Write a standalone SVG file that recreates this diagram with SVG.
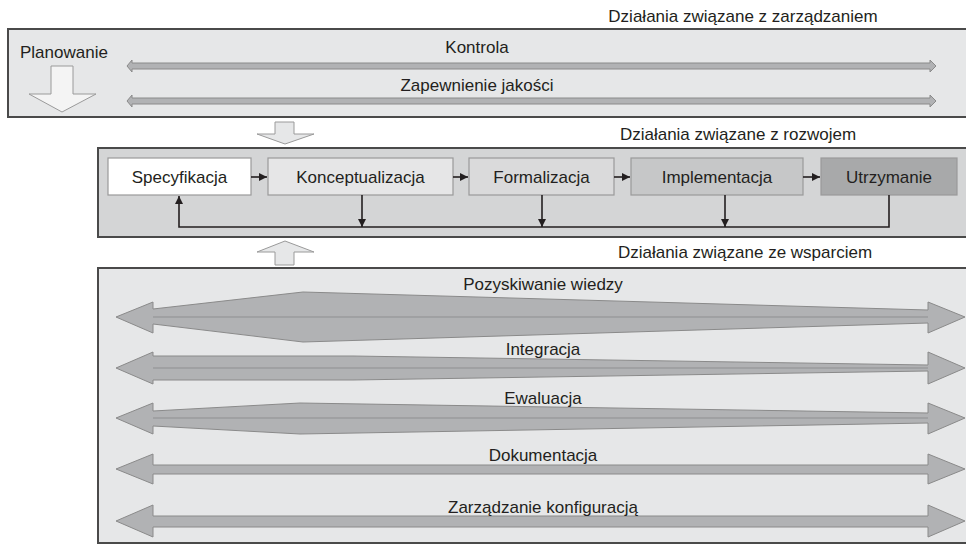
<svg xmlns="http://www.w3.org/2000/svg" width="966" height="545" viewBox="0 0 966 545">
<defs>
<style>
text{font-family:"Liberation Sans","Open Sans",sans-serif;font-size:17px;fill:#231f20}
.c{text-anchor:middle}
.panel{stroke:#4a4a4a;stroke-width:2}
.box{stroke:#9a9a9a;stroke-width:1.2}
.big{fill:#b1b2b4;stroke:#8a8a8a;stroke-width:1}
.mid{stroke:#8e8f91;stroke-width:1;fill:none}
.thin{fill:#b1b2b4;stroke:#8a8a8a;stroke-width:1}
.blk{stroke:#231f20;stroke-width:1.6;fill:none}
.out{stroke:#9a9a9a;stroke-width:1}
</style>
<marker id="ah" viewBox="0 0 10 10" refX="10" refY="5" markerWidth="8" markerHeight="8" markerUnits="userSpaceOnUse" orient="auto">
<path d="M0,0 L10,5 L0,10 z" fill="#231f20"/>
</marker>
</defs>

<g id="panel-zarzadzanie">
<rect class="panel" x="8" y="29" width="970" height="88" fill="#e6e7e8"/>
<text x="743" y="22" class="c">Działania związane z zarządzaniem</text>
</g>
<g id="planowanie">
<text x="20" y="58">Planowanie</text>
<polygon class="out" fill="#f4f4f4" points="51,66 73,66 73,94 96,94 62,112 29,94 51,94"/>
</g>
<g id="kontrola">
<polygon class="thin" points="127,66 132,60 132,63 930,63 930,60 936,66 930,72 930,69 132,69 132,72"/>
<text x="477" y="53" class="c">Kontrola</text>
</g>
<g id="zapewnienie">
<polygon class="thin" points="127,101 132,95 132,98 930,98 930,95 936,101 930,107 930,104 132,104 132,107"/>
<text x="477" y="91" class="c">Zapewnienie jakości</text>
</g>

<g id="arrow-down">
<polygon class="out" fill="#e6e7e8" points="275,122 294,122 294,134 314,134 285,144 257,134 275,134"/>
</g>

<g id="panel-rozwoj">
<rect class="panel" x="98" y="148" width="880" height="89" fill="#d4d5d6"/>
<text x="738" y="140" class="c">Działania związane z rozwojem</text>
</g>
<g id="specyfikacja">
<rect class="box" x="108" y="158" width="143" height="37" fill="#ffffff"/>
<text x="179.5" y="183" class="c">Specyfikacja</text>
</g>
<g id="konceptualizacja">
<rect class="box" x="268" y="158" width="185" height="37" fill="#e6e6e7"/>
<text x="360.5" y="183" class="c">Konceptualizacja</text>
</g>
<g id="formalizacja">
<rect class="box" x="469" y="158" width="145" height="37" fill="#dadadb"/>
<text x="541.5" y="183" class="c">Formalizacja</text>
</g>
<g id="implementacja">
<rect class="box" x="631" y="158" width="172" height="37" fill="#c6c7c8"/>
<text x="717" y="183" class="c">Implementacja</text>
</g>
<g id="utrzymanie">
<rect class="box" x="821" y="158" width="136" height="37" fill="#a8a9aa"/>
<text x="889" y="183" class="c">Utrzymanie</text>
</g>

<g id="connectors">
<line class="blk" x1="251" y1="177" x2="267" y2="177" marker-end="url(#ah)"/>
<line class="blk" x1="453" y1="177" x2="468" y2="177" marker-end="url(#ah)"/>
<line class="blk" x1="614" y1="177" x2="630" y2="177" marker-end="url(#ah)"/>
<line class="blk" x1="803" y1="177" x2="820" y2="177" marker-end="url(#ah)"/>
<line class="blk" x1="362" y1="195" x2="362" y2="227" marker-end="url(#ah)"/>
<line class="blk" x1="542" y1="195" x2="542" y2="227" marker-end="url(#ah)"/>
<line class="blk" x1="725" y1="195" x2="725" y2="227" marker-end="url(#ah)"/>
<polyline class="blk" points="889,195 889,227 179,227 179,196" marker-end="url(#ah)"/>
</g>

<g id="arrow-up">
<polygon class="out" fill="#e6e7e8" points="275,265 294,265 294,252 314,252 285,241 257,252 275,252"/>
</g>

<g id="panel-wsparcie">
<rect class="panel" x="98" y="268" width="880" height="275" fill="#e6e7e8"/>
<text x="745" y="258" class="c">Działania związane ze wsparciem</text>
</g>
<g id="pozyskiwanie">
<polygon class="big" points="116,317 153,302 153,309 303,292 928,310 928,302 965,317 928,333 928,323 303,342 153,324 153,333"/>
<line class="mid" x1="153" y1="317" x2="928" y2="317"/>
<text x="543" y="290" class="c">Pozyskiwanie wiedzy</text>
</g>
<g id="integracja">
<polygon class="big" points="116,368 153,352 153,356 353,356 928,365 928,352 965,368 928,384 928,371 353,380 153,380 153,384"/>
<line class="mid" x1="153" y1="368" x2="928" y2="368"/>
<text x="543" y="355" class="c">Integracja</text>
</g>
<g id="ewaluacja">
<polygon class="big" points="116,418 153,403 153,411 300,403 928,413 928,403 965,418 928,434 928,423 300,434 153,426 153,434"/>
<line class="mid" x1="153" y1="418" x2="928" y2="418"/>
<text x="543" y="404" class="c">Ewaluacja</text>
</g>
<g id="dokumentacja">
<polygon class="big" points="116,469 153,454 153,465 928,465 928,454 965,469 928,484 928,474 153,474 153,484"/>
<text x="543" y="461" class="c">Dokumentacja</text>
</g>
<g id="zarzadzanie-konfiguracja">
<polygon class="big" points="116,521 153,505 153,516 928,516 928,505 965,521 928,537 928,527 153,527 153,537"/>
<text x="543" y="513" class="c">Zarządzanie konfiguracją</text>
</g>
</svg>
